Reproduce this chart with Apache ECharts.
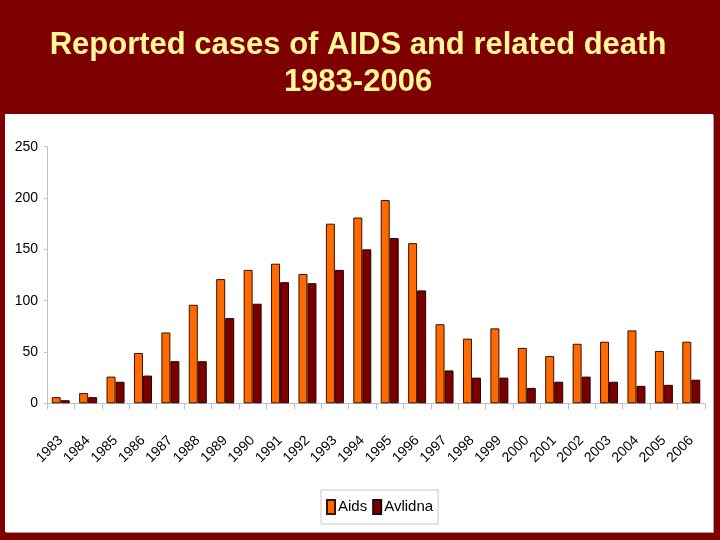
<!DOCTYPE html>
<html>
<head>
<meta charset="utf-8">
<script src="https://cdn.jsdelivr.net/npm/echarts@6/dist/echarts.min.js"></script>
<style>
html,body{margin:0;padding:0;background:#7f0000;}
#c{width:720px;height:540px;}
</style>
</head>
<body>
<div id="c"></div>
<script>
const years = ['1983','1984','1985','1986','1987','1988','1989','1990','1991','1992','1993','1994','1995','1996','1997','1998','1999','2000','2001','2002','2003','2004','2005','2006'];
const aids = [6,10,26,49,69,96,121,130,136,126,175,181,198,156,77,63,73,54,46,58,60,71,51,60];
const avlidna = [3,6,21,27,41,41,83,97,118,117,130,150,161,110,32,25,25,15,21,26,21,17,18,23];
const yTicks = [0,50,100,150,200,250];

const font = '"Liberation Sans",Arial,sans-serif';
const chart = echarts.init(document.getElementById('c'));
chart.setOption({
  backgroundColor: '#7f0000',
  animation: false,
  title: {
    text: 'Reported cases of AIDS and related death\n1983-2006',
    left: 353, top: 22, textAlign: 'center',
    textStyle: {color: '#fff799', fontFamily: font, fontWeight: 'bold', fontSize: 31, lineHeight: 37}
  },
  graphic: [
    {type: 'rect', shape: {x: 6, y: 115, width: 708, height: 418}, style: {fill: '#a0a0a0'}, z: -2},
    {type: 'rect', shape: {x: 5, y: 114, width: 708, height: 418}, style: {fill: '#ffffff'}, z: -1}
  ],
  legend: {
    data: ['Aids','Avlidna'],
    left: 321, top: 490,
    padding: [9, 5, 9, 5],
    borderColor: '#c8c8c8', borderWidth: 1,
    itemWidth: 8, itemHeight: 14, itemGap: 5,
    icon: 'rect',
    textStyle: {fontFamily: font, fontSize: 15, color: '#000', padding: [0,0,0,-2]}
  },
  grid: {left: 47, right: 15, top: 146.7, bottom: 136.7, containLabel: false},
  xAxis: {
    type: 'category', data: years,
    axisLine: {lineStyle: {color: '#bfbfbf', width: 1}},
    axisTick: {show: true, length: 6, alignWithLabel: false, lineStyle: {color: '#bfbfbf'}},
    axisLabel: {rotate: 45, margin: 35, interval: 0, fontFamily: font, fontSize: 14, color: '#000'}
  },
  yAxis: {
    type: 'value', min: 0, max: 250, interval: 50,
    splitLine: {show: false},
    axisLine: {show: true, lineStyle: {color: '#bfbfbf'}},
    axisTick: {show: true, inside: false, length: 3, lineStyle: {color: '#bfbfbf'}},
    axisLabel: {margin: 9, fontFamily: font, fontSize: 14, color: '#000',
      formatter: v => yTicks.includes(v) ? String(v) : ''}
  },
  series: [
    {name: 'Aids', type: 'bar', data: aids, barWidth: 9, barGap: '0%',
     itemStyle: {color: '#ff6a00', borderColor: '#3a1000', borderWidth: 1}},
    {name: 'Avlidna', type: 'bar', data: avlidna, barWidth: 9,
     itemStyle: {color: '#7a0000', borderColor: '#2a0000', borderWidth: 1}}
  ]
});
</script>
</body>
</html>
